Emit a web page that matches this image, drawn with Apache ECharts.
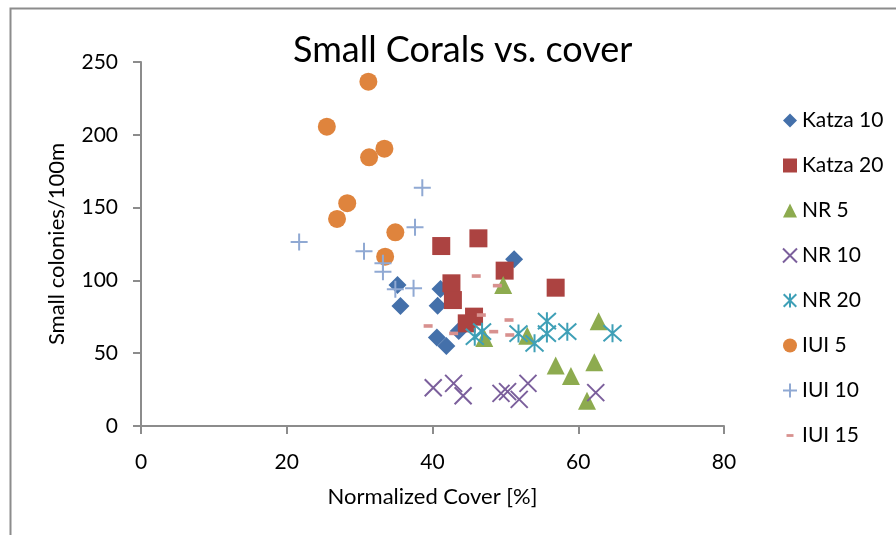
<!DOCTYPE html>
<html>
<head>
<meta charset="utf-8">
<script src="https://cdn.jsdelivr.net/npm/echarts@6/dist/echarts.min.js"></script>
<style>
  html, body { margin: 0; padding: 0; background: #fff; }
  #chart { width: 896px; height: 535px; }
</style>
</head>
<body>
<div id="chart"></div>
<script>
// Small coral colonies per 100 m against normalized cover, per site/depth
const katza10 = [[35.2, 96.8], [41.1, 94.1], [35.6, 82.4], [40.7, 82.6], [43.6, 65.2], [40.6, 60.7], [41.9, 54.9], [51.2, 114.5]];
const katza20 = [[41.2, 123.6], [46.3, 128.9], [49.9, 106.7], [42.6, 98.0], [42.8, 86.5], [45.7, 75.1], [44.7, 70.5], [56.9, 95.0]];
const nr5 = [[49.7, 96.8], [47.1, 60.5], [53.0, 62.0], [56.9, 41.5], [62.8, 72.0], [62.2, 43.7], [59.0, 34.3], [61.2, 17.4]];
const nr10 = [[40.1, 26.3], [42.9, 29.3], [44.2, 20.8], [49.4, 22.4], [50.3, 23.6], [51.9, 18.3], [53.1, 29.3], [62.4, 22.9]];
const nr20 = [[45.8, 61.3], [46.8, 64.8], [51.8, 63.5], [54.0, 56.8], [55.7, 72.0], [55.7, 63.5], [58.5, 64.8], [64.7, 63.7]];
const iui5 = [[31.2, 236.5], [25.5, 205.6], [33.4, 190.5], [31.3, 184.5], [28.3, 153.0], [26.9, 142.2], [34.9, 133.0], [33.5, 116.3]];
const iui10 = [[38.6, 163.7], [37.6, 136.5], [21.7, 126.4], [30.6, 120.0], [33.2, 111.7], [33.2, 106.0], [34.9, 93.9], [37.4, 94.6]];
const iui15 = [[46.0, 103.0], [48.9, 96.4], [39.4, 68.7], [42.9, 63.6], [46.7, 76.2], [48.4, 64.8], [50.5, 72.8], [50.6, 62.5]];

const xTicks = [0, 20, 40, 60, 80];
const yTicks = [0, 50, 100, 150, 200, 250];

// Line-art marker shapes inside a 10x10 box (the leading moves fix the box size)
const crossPath = 'path://M0,0L10,10M10,0L0,10';
const plusPath = 'path://M5,0L5,10M0,5L10,5';
const starPath = 'path://M0.5,0.5L9.5,9.5M9.5,0.5L0.5,9.5M5,0L5,10';
const dashPath = 'path://M0,0M10,10M2.5,4H7.5V6H2.5Z';

const FONT = 'Lato, "Liberation Sans", sans-serif';

function filled(name, data, symbol, size, color) {
  return {
    name, type: 'scatter', data, symbol, symbolSize: size,
    itemStyle: { color: color, opacity: 1 },
    emphasis: { disabled: true }
  };
}
function stroked(name, data, symbol, size, color, width) {
  return {
    name, type: 'scatter', data, symbol, symbolSize: size,
    itemStyle: { color: color, borderColor: color, borderWidth: width, opacity: 1 },
    emphasis: { disabled: true }
  };
}

const chart = echarts.init(document.getElementById('chart'), null, { renderer: 'canvas' });
chart.setOption({
  animation: false,
  backgroundColor: '#ffffff',
  title: {
    text: 'Small Corals vs. cover',
    left: 288, top: 27,
    textStyle: { fontFamily: FONT, fontSize: 36, fontWeight: 'normal', color: '#000' }
  },
  graphic: [{
    type: 'rect', left: 8, top: 6, silent: true,
    shape: { width: 920, height: 560 },
    style: { fill: 'none', stroke: '#8c8c8c', lineWidth: 2 }
  }],
  legend: {
    orient: 'vertical', left: 777, top: 105,
    itemWidth: 14, itemHeight: 14, itemGap: 24,
    textStyle: { fontFamily: FONT, fontSize: 21, color: '#000' },
    data: ['Katza 10', 'Katza 20', 'NR 5', 'NR 10', 'NR 20', 'IUI 5', 'IUI 10', 'IUI 15']
  },
  grid: { left: 141, right: 172, top: 62, bottom: 109, containLabel: false },
  xAxis: {
    type: 'value', min: xTicks[0], max: xTicks[xTicks.length - 1], interval: 20,
    name: 'Normalized Cover [%]', nameLocation: 'middle', nameGap: 60,
    nameTextStyle: { fontFamily: FONT, fontSize: 22, color: '#000' },
    axisLine: { show: true, lineStyle: { color: '#8c8c8c', width: 2 } },
    axisTick: { show: true, inside: false, length: 8, lineStyle: { color: '#8c8c8c', width: 2 } },
    axisLabel: { fontFamily: FONT, fontSize: 21, color: '#000', margin: 26 },
    splitLine: { show: false }
  },
  yAxis: {
    type: 'value', min: yTicks[0], max: yTicks[yTicks.length - 1], interval: 50,
    name: 'Small colonies/100m', nameLocation: 'middle', nameGap: 73, nameRotate: 90,
    nameTextStyle: { fontFamily: FONT, fontSize: 22, color: '#000' },
    axisLine: { show: true, lineStyle: { color: '#8c8c8c', width: 2 } },
    axisTick: { show: true, inside: false, length: 8, lineStyle: { color: '#8c8c8c', width: 2 } },
    axisLabel: { fontFamily: FONT, fontSize: 21, color: '#000', margin: 23 },
    splitLine: { show: false }
  },
  series: [
    filled('Katza 10', katza10, 'diamond', 18, '#4470aa'),
    filled('Katza 20', katza20, 'rect', 18, '#ac4341'),
    filled('NR 5', nr5, 'triangle', 18, '#8dab4f'),
    stroked('NR 10', nr10, crossPath, 17, '#7b5f9c', 2),
    stroked('NR 20', nr20, starPath, 18, '#3fa0b7', 2),
    filled('IUI 5', iui5, 'circle', 18, '#df843d'),
    stroked('IUI 10', iui10, plusPath, 17, '#90a9d3', 2),
    filled('IUI 15', iui15, dashPath, 18, '#d8918f')
  ]
});
</script>
</body>
</html>
